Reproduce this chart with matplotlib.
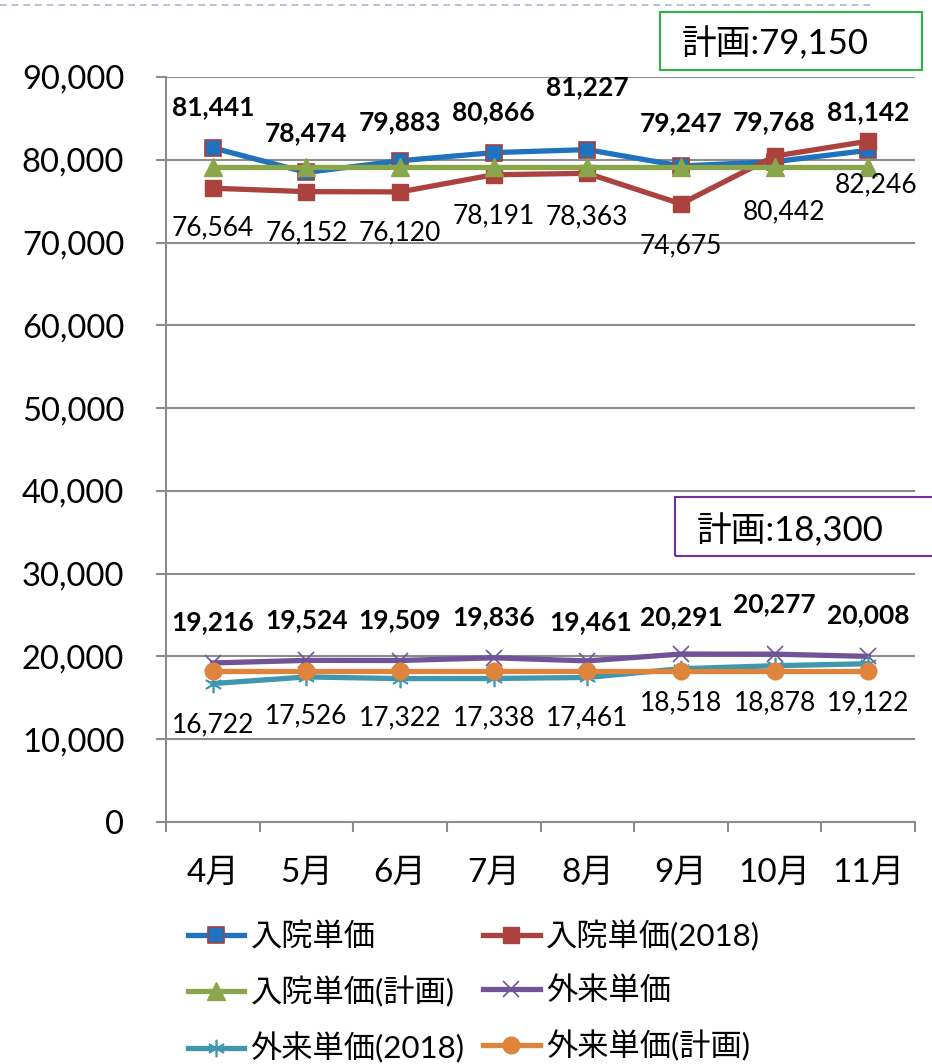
import matplotlib
matplotlib.use("Agg")
import matplotlib.pyplot as plt
from matplotlib.lines import Line2D
from matplotlib.patches import Rectangle

plt.rcParams["font.family"] = ["Lato", "Noto Sans CJK JP", "DejaVu Sans"]

months = ["4月", "5月", "6月", "7月", "8月", "9月", "10月", "11月"]

inpatient = [81441, 78474, 79883, 80866, 81227, 79247, 79768, 81142]
inpatient_2018 = [76564, 76152, 76120, 78191, 78363, 74675, 80442, 82246]
inpatient_plan = [79150] * 8
outpatient = [19216, 19524, 19509, 19836, 19461, 20291, 20277, 20008]
outpatient_2018 = [16722, 17526, 17322, 17338, 17461, 18518, 18878, 19122]
outpatient_plan = [18300] * 8

# label offsets in pixels (layout only)
off_inpatient = [-41, -39, -39, -40, -62, -43, -40, -38]
off_inpatient_2018 = [40, 41, 41, 41, 43, 42, 56, 44]
off_outpatient = [-41, -40, -40, -41, -39, -37, -50, -41]
off_outpatient_2018 = [41, 39, 39, 39, 40, 34, 37, 39]
dx_inpatient_2018 = [0, 0, 0, 0, 0, 0, 9, 8]
dx_outpatient = [0, 0, 0, 0, 3, 0, 0, 0]

fig = plt.figure(figsize=(9.32, 10.64), dpi=100)
ax = fig.add_axes([166 / 932, 1 - 822 / 1064, 749 / 932, 745 / 1064])

x = list(range(len(months)))
lw = 3.8

lines = []
lines += ax.plot(x, inpatient, color="#1F72BE", lw=lw, marker="s", ms=12,
                 mfc="#1F72BE", mec="#A5403C", mew=1.2, label="入院単価", zorder=3)
lines += ax.plot(x, inpatient_2018, color="#AC423E", lw=lw, marker="s", ms=12,
                 mfc="#AC423E", mec="#AC423E", label="入院単価(2018)", zorder=4)
lines += ax.plot(x, inpatient_plan, color="#8AA64A", lw=lw, marker="^", ms=12.5,
                 mfc="#8AA64A", mec="#8AA64A", label="入院単価(計画)", zorder=5)
lines += ax.plot(x, outpatient, color="#6F5597", lw=lw, marker="x", ms=11.5,
                 mec="#6F5597", mew=1.2, label="外来単価", zorder=3)
lines += ax.plot(x, outpatient_2018, color="#3F97B0", lw=lw, marker=(6, 2, 0), ms=12.5,
                 mec="#3F97B0", mew=1.2, label="外来単価(2018)", zorder=4)
lines += ax.plot(x, outpatient_plan, color="#DE843C", lw=lw, marker="o", ms=12,
                 mfc="#DE843C", mec="#DE843C", label="外来単価(計画)", zorder=5)

lab_fs = 19


def add_labels(vals, offs, bold, dxs=None):
    for i, v in enumerate(vals):
        dx = dxs[i] if dxs else 0
        ax.annotate(f"{v:,}", (i, v), xytext=(dx, -offs[i]),
                    textcoords="offset pixels", ha="center", va="center",
                    fontsize=lab_fs, fontweight="bold" if bold else "normal",
                    color="black", zorder=6)


add_labels(inpatient, off_inpatient, True)
add_labels(inpatient_2018, off_inpatient_2018, False, dx_inpatient_2018)
add_labels(outpatient, off_outpatient, True, dx_outpatient)
add_labels(outpatient_2018, off_outpatient_2018, False)

ax.set_ylim(0, 90000)
ax.set_xlim(-0.5, 7.5)
ax.set_yticks(range(0, 90001, 10000))
ax.set_yticklabels([f"{v:,}" for v in range(0, 90001, 10000)])
ax.set_xticks(x)
ax.set_xticklabels(months)
ax.set_xticks([i - 0.5 for i in range(9)], minor=True)

ax.yaxis.grid(True, color="#8C8C8C", lw=1.5)
ax.set_axisbelow(True)
for s in ["top", "right"]:
    ax.spines[s].set_visible(False)
ax.spines["left"].set_color("#8C8C8C")
ax.spines["left"].set_linewidth(1.5)
ax.spines["bottom"].set_color("#8C8C8C")
ax.spines["bottom"].set_linewidth(1.5)

ax.tick_params(axis="y", length=7, width=1.5, color="#8C8C8C", labelsize=23.5, pad=23)
ax.tick_params(axis="x", which="major", length=0, labelsize=24, pad=26)
ax.tick_params(axis="x", which="minor", length=7, width=1.5, color="#8C8C8C")

# legend filled row by row like the original
order = [0, 2, 4, 1, 3, 5]
ax.legend([lines[i] for i in order], [lines[i].get_label() for i in order],
          ncol=2, loc="upper left", bbox_to_anchor=(188 / 932, 1 - 920 / 1064),
          bbox_transform=fig.transFigure, frameon=False, fontsize=22.5,
          handlelength=1.8, handletextpad=0.2, columnspacing=0.6,
          labelspacing=0.8, borderaxespad=0, borderpad=0)

# dashed line at top
fig.add_artist(Line2D([0, 870 / 932], [1 - 5 / 1064, 1 - 5 / 1064],
                      transform=fig.transFigure, color="#A7B9CC",
                      lw=1.2, ls=(0, (4, 3))))

# plan boxes
fig.add_artist(Rectangle((660 / 932, 1 - 70 / 1064), 262 / 932, 58 / 1064,
                         transform=fig.transFigure, fill=False,
                         edgecolor="#2DB34A", lw=1.5))
fig.text(682 / 932, 1 - 43 / 1064, "計画:79,150", fontsize=25,
         ha="left", va="center")
fig.add_artist(Rectangle((675 / 932, 1 - 556 / 1064), 270 / 932, 59 / 1064,
                         transform=fig.transFigure, fill=False,
                         edgecolor="#7030A0", lw=1.5, clip_on=False))
fig.text(697 / 932, 1 - 530 / 1064, "計画:18,300", fontsize=25,
         ha="left", va="center")

fig.savefig("out.png", dpi=100)
